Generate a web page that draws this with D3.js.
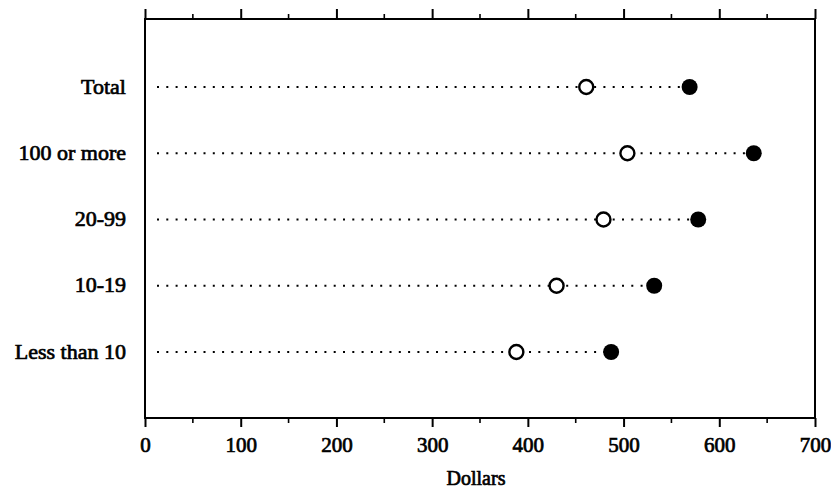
<!DOCTYPE html>
<html><head><meta charset="utf-8">
<script src="https://cdn.jsdelivr.net/npm/d3@7"></script>
<style>body{margin:0;background:#fff}svg{display:block}text{font-family:"Liberation Serif","DejaVu Serif",serif;fill:#000}</style>
</head><body><svg id="c" width="831" height="488"></svg>
<script>
const categories = ["Total","100 or more","20-99","10-19","Less than 10"];
const openValues = [461, 504, 479, 430, 388];
const filledValues = [569, 636, 578, 532, 487];
const majorTicks = [0,100,200,300,400,500,600,700];
const minorTicks = [50,150,250,350,450,550,650];
const xLabel = "Dollars";

(function(){
const svg = d3.select("#c");
const L = 145, R = 815, T = 19, B = 418;
const x = d3.scaleLinear().domain([0,700]).range([L,R]);
const y = d3.scalePoint().domain(categories).range([87,352]);
const heavy = s => s.attr("stroke","#000").attr("stroke-width",0.7);

svg.append("rect").attr("x",L).attr("y",T).attr("width",R-L).attr("height",B-T)
  .attr("fill","none").attr("stroke","#000").attr("stroke-width",2);

const gB = svg.append("g").attr("transform",`translate(0,${B})`);
gB.call(d3.axisBottom(x).tickValues(majorTicks).tickSize(9).tickFormat(d3.format("d")))
  .call(g=>g.select(".domain").remove())
  .call(g=>g.selectAll(".tick line").attr("stroke","#000").attr("stroke-width",2))
  .call(g=>g.selectAll(".tick text").attr("font-size",21).attr("y",34).attr("dy",0)
    .style("font-family","'Liberation Serif',serif").call(heavy));
gB.selectAll(".minor").data(minorTicks).join("line").attr("class","minor")
  .attr("x1",d=>x(d)).attr("x2",d=>x(d)).attr("y1",0).attr("y2",5).attr("stroke","#000").attr("stroke-width",1.6);

const gT = svg.append("g").attr("transform",`translate(0,${T})`);
gT.call(d3.axisTop(x).tickValues(majorTicks).tickSize(10).tickFormat(""))
  .call(g=>g.select(".domain").remove())
  .call(g=>g.selectAll(".tick line").attr("stroke","#000").attr("stroke-width",2));
gT.selectAll(".minor").data(minorTicks).join("line").attr("class","minor")
  .attr("x1",d=>x(d)).attr("x2",d=>x(d)).attr("y1",0).attr("y2",-5).attr("stroke","#000").attr("stroke-width",1.6);

svg.append("text").attr("x",476).attr("y",485).attr("text-anchor","middle")
  .attr("font-size",20).call(heavy).text(xLabel);

svg.selectAll(".cat").data(categories).join("text").attr("class","cat")
  .attr("x",126).attr("y",d=>y(d)+6.5).attr("text-anchor","end")
  .attr("font-size",22).call(heavy).text(d=>d);

const rows = categories.map((c,i)=>({c, o:openValues[i], f:filledValues[i]}));
svg.selectAll(".dl").data(rows).join("line").attr("class","dl")
  .attr("x1",L+12).attr("x2",d=>x(d.f)).attr("y1",d=>y(d.c)).attr("y2",d=>y(d.c))
  .attr("stroke","#000").attr("stroke-width",2.2).attr("stroke-dasharray","2 7.3");
svg.selectAll(".fp").data(rows).join("circle").attr("class","fp")
  .attr("cx",d=>x(d.f)).attr("cy",d=>y(d.c)).attr("r",8).attr("fill","#000");
svg.selectAll(".op").data(rows).join("circle").attr("class","op")
  .attr("cx",d=>x(d.o)).attr("cy",d=>y(d.c)).attr("r",7).attr("fill","#fff").attr("stroke","#000").attr("stroke-width",2.4);
})();
</script></body></html>
